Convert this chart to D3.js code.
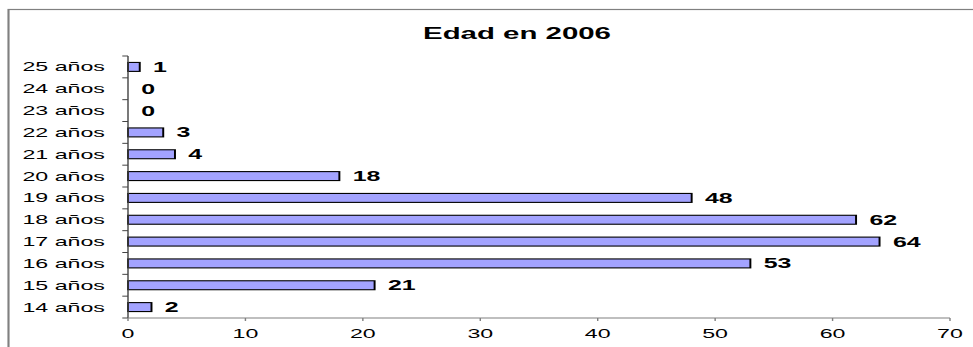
<!DOCTYPE html>
<html>
<head>
<meta charset="utf-8">
<script src="https://cdn.jsdelivr.net/npm/d3@7"></script>
<style>
  html, body { margin: 0; padding: 0; background: #fff; }
  svg { display: block; }
  text { font-family: "Liberation Sans", Arial, sans-serif; }
</style>
</head>
<body>
<script>
const categories = ["25 años","24 años","23 años","22 años","21 años","20 años","19 años","18 años","17 años","16 años","15 años","14 años"];
const values = [1, 0, 0, 3, 4, 18, 48, 62, 64, 53, 21, 2];
const xTicks = [0, 10, 20, 30, 40, 50, 60, 70];
const title = "Edad en 2006";

const W = 973, H = 347;
const VW = 546; // original chart width, stretched horizontally to W
const k = W / VW;

const svg = d3.select("body").append("svg")
  .attr("width", W).attr("height", H)
  .attr("viewBox", `0 0 ${VW} ${H}`)
  .attr("preserveAspectRatio", "none");

// chart area border (extends beyond right/bottom edges)
svg.append("rect")
  .attr("x", 8.5 / k).attr("y", 9.5)
  .attr("width", VW).attr("height", H)
  .attr("fill", "none").attr("stroke", "#808080").attr("stroke-width", 1.2);

const x0 = 128 / k, x1 = 950 / k;
const yTop = 56, yBot = 318;

const x = d3.scaleLinear().domain([0, 70]).range([x0, x1]);
const y = d3.scaleBand().domain(categories).range([yTop, yBot])
  .paddingInner(0.59).paddingOuter(0.295);
const step = y.step();

// title
svg.append("text")
  .attr("x", 517 / k).attr("y", 39.5)
  .attr("text-anchor", "middle")
  .attr("font-size", 16.5).attr("font-weight", "bold")
  .text(title);

// bars
svg.selectAll("rect.bar").data(values).join("rect")
  .attr("class", "bar")
  .attr("x", x(0))
  .attr("y", (d, i) => y(categories[i]))
  .attr("width", d => x(d) - x(0))
  .attr("height", y.bandwidth())
  .attr("fill", d => d > 0 ? "#A3A3FF" : "none")
  .attr("stroke", d => d > 0 ? "#000" : "none")
  .attr("stroke-width", 1.1);

// value labels
svg.selectAll("text.val").data(values).join("text")
  .attr("class", "val")
  .attr("x", d => x(d) + 7.5)
  .attr("y", (d, i) => y(categories[i]) + y.bandwidth() / 2 + 5)
  .attr("font-size", 14).attr("font-weight", "bold")
  .text(d => d);

// y axis
const axisColor = "#444";
svg.append("line")
  .attr("x1", x0).attr("x2", x0).attr("y1", yTop).attr("y2", yBot)
  .attr("stroke", axisColor).attr("stroke-width", 0.8);
const yTickPos = d3.range(categories.length + 1).map(i => yTop + i * step);
svg.selectAll("line.ytick").data(yTickPos).join("line")
  .attr("class", "ytick")
  .attr("x1", x0 - 3.2).attr("x2", x0)
  .attr("y1", d => d).attr("y2", d => d)
  .attr("stroke", axisColor).attr("stroke-width", 1);
svg.selectAll("text.cat").data(categories).join("text")
  .attr("class", "cat")
  .attr("x", x0 - 13)
  .attr("y", d => y(d) + y.bandwidth() / 2 + 4.5)
  .attr("text-anchor", "end")
  .attr("font-size", 13)
  .text(d => d);

// x axis
svg.append("line")
  .attr("x1", x0).attr("x2", x1).attr("y1", yBot).attr("y2", yBot)
  .attr("stroke", "#808080").attr("stroke-width", 1.2);
svg.selectAll("line.xtick").data(xTicks).join("line")
  .attr("class", "xtick")
  .attr("x1", d => x(d)).attr("x2", d => x(d))
  .attr("y1", yBot).attr("y2", yBot + 3)
  .attr("stroke", "#808080").attr("stroke-width", 0.8);
svg.selectAll("text.xt").data(xTicks).join("text")
  .attr("class", "xt")
  .attr("x", d => x(d))
  .attr("y", yBot + 20)
  .attr("text-anchor", "middle")
  .attr("font-size", 13)
  .text(d => d);
</script>
</body>
</html>
